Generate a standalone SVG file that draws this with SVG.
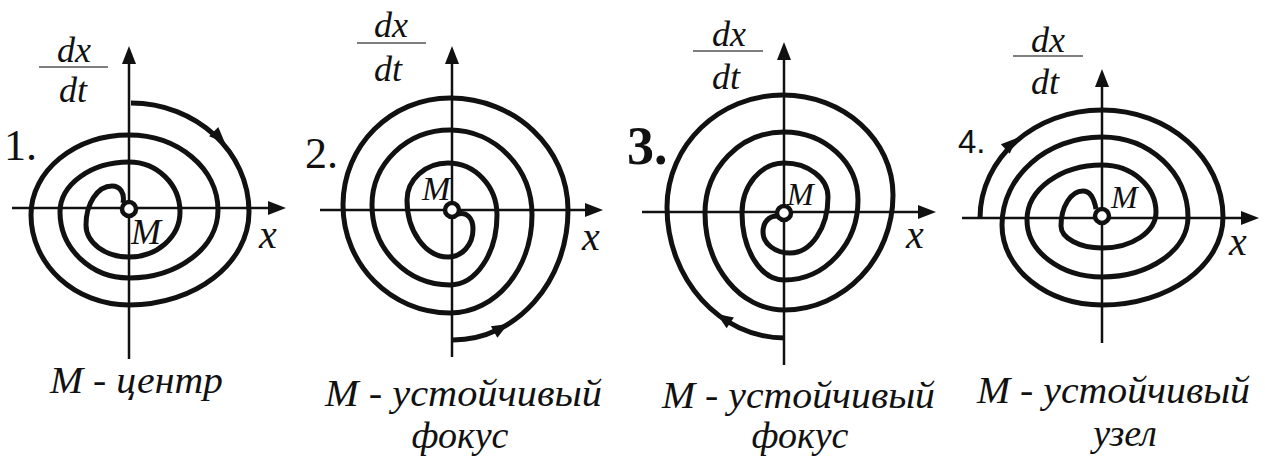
<svg xmlns="http://www.w3.org/2000/svg" width="1265" height="463" viewBox="0 0 1265 463">
<style>
.ax{stroke:#111;stroke-width:2.5;fill:none}
.sp{stroke:#111;stroke-width:5;fill:none;stroke-linecap:butt;stroke-linejoin:round}
.ctr{stroke:#111;stroke-width:4.5;fill:#fff}
.fr{stroke:#555;stroke-width:1.5}
text{fill:#111}
.it{font-family:'Liberation Serif','DejaVu Serif',serif;font-style:italic}
.num{font-family:'Liberation Serif',serif}
.sans{font-family:'Liberation Sans',sans-serif}
.fs36{font-size:36px}
.lbl{font-size:38px}
.xl{font-size:40px}
.ahd{fill:#111}
</style>
<defs>
<path id="axh" d="M0,0 L-18,-7 L-18,7 Z"/>
<path id="ah" d="M0,0 L-16,-6.5 L-16,6.5 Z"/>
</defs>
<rect width="1265" height="463" fill="#fff"/>

<g id="panel1">
<line class="ax" x1="12" y1="208" x2="270" y2="208"/>
<line class="ax" x1="129" y1="359" x2="129" y2="62"/>
<use href="#axh" class="ahd" transform="translate(286,208)"/>
<use href="#axh" class="ahd" transform="translate(129,46) rotate(-90)"/>
<path class="sp" d="M131,103 C196.1,103 249,151.8 249,212 C249,263.3 195.2,305 129,305 C74.9,305 31,264.7 31,215 C31,170.8 74.9,135 129,135 C178.1,135 218,168.6 218,210 C218,247.5 178.1,278 129,278 C90.9,278 60,248.4 60,212 C60,184.4 90.9,162 129,162 C157.2,162 180,184.4 180,212 C180,236.8 157.2,257 129,257 C105.3,257 86,242.7 86,225 C86,203.5 97.6,186 112,186 C120,186 125,193 123,203"/>
<circle class="ctr" cx="129" cy="209" r="7"/>
<use href="#ah" class="ahd" transform="translate(225,143) rotate(45)"/>
<text class="it fs36" x="57" y="62">dx</text>
<line class="fr" x1="39" y1="67" x2="108" y2="67"/>
<text class="it fs36" x="59" y="102">dt</text>
<text class="num" x="4" y="160" style="font-size:44px">1.</text>
<text class="it fs36" x="131" y="244">M</text>
<text class="it xl" x="259" y="248">x</text>
<text class="it lbl" x="50" y="393" textLength="173" lengthAdjust="spacingAndGlyphs">M - центр</text>
</g>

<g id="panel2">
<line class="ax" x1="320" y1="210" x2="588" y2="210"/>
<line class="ax" x1="452" y1="357" x2="452" y2="62"/>
<use href="#axh" class="ahd" transform="translate(603,210)"/>
<use href="#axh" class="ahd" transform="translate(452,46) rotate(-90)"/>
<path class="sp" d="M453,340 C516.5,340 568,281.8 568,210 C568,148.2 515.1,98 450,98 C390.9,98 343,145.9 343,205 C343,264.6 390.9,313 450,313 C495.3,313 532,269.1 532,215 C532,168.1 495.3,130 450,130 C406.9,130 372,163.6 372,205 C372,249.2 406.9,285 450,285 C475.9,285 497,253.6 497,215 C497,186.3 475,163 448,163 C425.4,163 407,179.6 407,200 C407,231.5 425.4,257 448,257 C462,257 473,245 473,229 C473,217 466,212 458,214"/>
<circle class="ctr" cx="452" cy="210" r="7"/>
<use href="#ah" class="ahd" transform="translate(508,324) rotate(-30)"/>
<text class="it fs36" x="374" y="37">dx</text>
<line class="fr" x1="357" y1="43" x2="426" y2="43"/>
<text class="it fs36" x="374" y="81">dt</text>
<text class="num" x="305" y="168" style="font-size:44px">2.</text>
<text class="it" x="422" y="200" style="font-size:34px">M</text>
<text class="it xl" x="582" y="250">x</text>
<text class="it lbl" x="325" y="406" textLength="277" lengthAdjust="spacingAndGlyphs">M - устойчивый</text>
<text class="it lbl" x="460" y="448" text-anchor="middle">фокус</text>
</g>

<g id="panel3">
<line class="ax" x1="642" y1="212" x2="920" y2="212"/>
<line class="ax" x1="784" y1="365" x2="784" y2="58"/>
<use href="#axh" class="ahd" transform="translate(936,212)"/>
<use href="#axh" class="ahd" transform="translate(784,42) rotate(-90)"/>
<path class="sp" d="M785,338 C719.9,338 667,279.3 667,207 C667,145.2 719,95 783,95 C843.7,95 893,139.8 893,195 C893,258.5 844.2,310 784,310 C740.4,310 705,266.5 705,213 C705,168.3 740.4,132 784,132 C824.8,132 858,162.5 858,200 C858,244.2 824.8,280 784,280 C760.8,280 742,250 742,213 C742,185.4 760.8,163 784,163 C808.3,163 828,178.2 828,197 C828,227.9 811,253 790,253 C775.1,253 763,243.6 763,232 C763,222 769,216 777,216"/>
<circle class="ctr" cx="784" cy="213" r="7"/>
<use href="#ah" class="ahd" transform="translate(717,314) rotate(-146)"/>
<text class="it fs36" x="712" y="46">dx</text>
<line class="fr" x1="693" y1="51" x2="763" y2="51"/>
<text class="it fs36" x="712" y="89">dt</text>
<text class="num" x="627" y="164" style="font-size:54px;font-weight:bold">3.</text>
<text class="it" x="787" y="205" style="font-size:32px">M</text>
<text class="it xl" x="906" y="248">x</text>
<text class="it lbl" x="662" y="408" textLength="273" lengthAdjust="spacingAndGlyphs">M - устойчивый</text>
<text class="it lbl" x="800" y="448" text-anchor="middle">фокус</text>
</g>

<g id="panel4">
<line class="ax" x1="962" y1="218" x2="1243" y2="218"/>
<line class="ax" x1="1102" y1="343" x2="1102" y2="85"/>
<use href="#axh" class="ahd" transform="translate(1259,218)"/>
<use href="#axh" class="ahd" transform="translate(1102,69) rotate(-90)"/>
<path class="sp" d="M980,218 C980,158.4 1034.7,110 1102,110 C1168.8,110 1223,157.9 1223,217 C1223,265.6 1168.8,305 1102,305 C1046.8,305 1002,269.2 1002,225 C1002,176.4 1046.8,137 1102,137 C1149.5,137 1188,172.8 1188,217 C1188,250.1 1149.5,277 1102,277 C1060.6,277 1027,251.5 1027,220 C1027,189.6 1060.6,165 1102,165 C1131.8,165 1156,186.1 1156,212 C1156,231.9 1131.8,248 1102,248 C1079.4,248 1061,238.1 1061,226 C1061,206.7 1070.9,191 1083,191 C1090,191 1094,198 1096,209"/>
<circle class="ctr" cx="1102" cy="216" r="7"/>
<use href="#ah" class="ahd" transform="translate(1017,138) rotate(-43)"/>
<text class="it fs36" x="1031" y="52">dx</text>
<line class="fr" x1="1013" y1="56" x2="1083" y2="56"/>
<text class="it fs36" x="1031" y="94">dt</text>
<text class="sans" x="958" y="153" style="font-size:33px">4.</text>
<text class="it" x="1111" y="208" style="font-size:32px">M</text>
<text class="it xl" x="1229" y="255">x</text>
<text class="it lbl" x="977" y="403" textLength="273" lengthAdjust="spacingAndGlyphs">M - устойчивый</text>
<text class="it lbl" x="1125" y="446" text-anchor="middle">узел</text>
</g>
</svg>
